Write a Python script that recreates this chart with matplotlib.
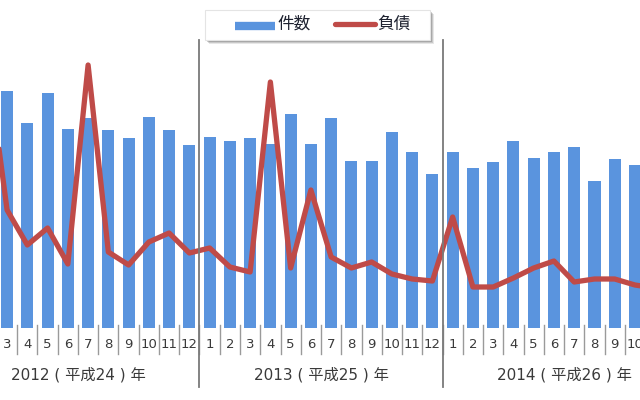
import numpy as np
import matplotlib
matplotlib.use('Agg')
import matplotlib.pyplot as plt
from matplotlib.patches import Rectangle
from matplotlib.lines import Line2D
from matplotlib import transforms

plt.rcParams['font.family'] = ['DejaVu Sans', 'Noto Sans CJK JP']

# 2012-03 .. 2014-10 (visible bars)
month_labels = [3, 4, 5, 6, 7, 8, 9, 10, 11, 12,
                1, 2, 3, 4, 5, 6, 7, 8, 9, 10, 11, 12,
                1, 2, 3, 4, 5, 6, 7, 8, 9, 10]
kensu = [237, 205, 235, 199, 210, 198, 190, 211, 198, 183,
         191, 187, 190, 184, 214, 184, 210, 167, 167, 196, 176, 154,
         176, 160, 166, 187, 170, 176, 181, 147, 169, 163]
# 2012-02 .. 2014-11 (line runs past both edges)
fusai = [271, 118, 83, 100, 64, 263, 76, 63, 86, 95, 75, 80,
         61, 56, 246, 60, 138, 71, 60, 66, 54, 49, 47,
         111, 41, 41, 50, 60, 67, 46, 49, 49, 43, 40]
year_labels = ['2012 ( 平成24 ) 年', '2013 ( 平成25 ) 年', '2014 ( 平成26 ) 年']
year_start = [-2, 10, 22]   # index of January of each year

BLUE = '#5A94DE'
RED = '#BF4B48'
W, H = 640, 400

fig = plt.figure(figsize=(6.4, 4.0), dpi=100)
ax = fig.add_axes([0, 72 / H, 1, 328 / H])
ax2 = ax.twinx()

x_bar = np.arange(len(kensu))
x_line = np.arange(-1, len(kensu) + 1)
ax.bar(x_bar, kensu, width=0.6, color=BLUE, zorder=1)
ax2.plot(x_line, fusai, color=RED, lw=3.8, solid_joinstyle='round',
         solid_capstyle='round', zorder=3)

for a in (ax, ax2):
    a.set_xlim(-0.35, 31.25)
    a.set_ylim(0, 328)
    a.axis('off')

def fy(py):
    return 1 - py / H

trans = transforms.blended_transform_factory(ax.transData, fig.transFigure)

# month labels and small separators
for i, m in enumerate(month_labels):
    fig.text(i, fy(345), str(m), transform=trans, ha='center', va='center',
             fontsize=9.5, color='#3a3a3a')
for i in range(-1, len(kensu)):
    fig.add_artist(Line2D([i + 0.5, i + 0.5], [fy(325), fy(354)],
                          transform=trans, color='#9a9a9a', lw=1.0))

# year separators and labels
for s in year_start[1:]:
    fig.add_artist(Line2D([s - 0.5, s - 0.5], [fy(40), fy(387)],
                          transform=trans, color='#7a7a7a', lw=1.3, zorder=4))
for s, lab in zip(year_start, year_labels):
    fig.text(s + 5.5, fy(375), lab, transform=trans, ha='center',
             va='center', fontsize=11, color='#3a3a3a')

# legend box with shadow
lx0, lx1, ly0, ly1 = 205, 430, 10, 40
for k, al in [(4, 0.12), (3, 0.18), (2, 0.25)]:
    fig.add_artist(Rectangle(((lx0 + k) / W, fy(ly1 + k)), (lx1 - lx0) / W,
                             (ly1 - ly0) / H, transform=fig.transFigure,
                             facecolor='#404040', edgecolor='none', alpha=al,
                             zorder=5))
fig.add_artist(Rectangle((lx0 / W, fy(ly1)), (lx1 - lx0) / W, (ly1 - ly0) / H,
                         transform=fig.transFigure, facecolor='white',
                         edgecolor='#e4e4e4', lw=0.8, zorder=6))
fig.add_artist(Line2D([235 / W, 275 / W], [fy(26), fy(26)],
                      transform=fig.transFigure, color=BLUE, lw=6,
                      solid_capstyle='butt', zorder=7))
fig.add_artist(Line2D([335 / W, 375 / W], [fy(24), fy(24)],
                      transform=fig.transFigure, color=RED, lw=3.8,
                      solid_capstyle='round', zorder=7))
fig.text(277 / W, fy(24), '件数', ha='left', va='center', fontsize=12,
         family='Noto Sans CJK JP', color='#1e2230', zorder=8)
fig.text(377 / W, fy(24), '負債', ha='left', va='center', fontsize=12,
         family='Noto Sans CJK JP', color='#1e2230', zorder=8)

fig.savefig('out.png', dpi=100)
